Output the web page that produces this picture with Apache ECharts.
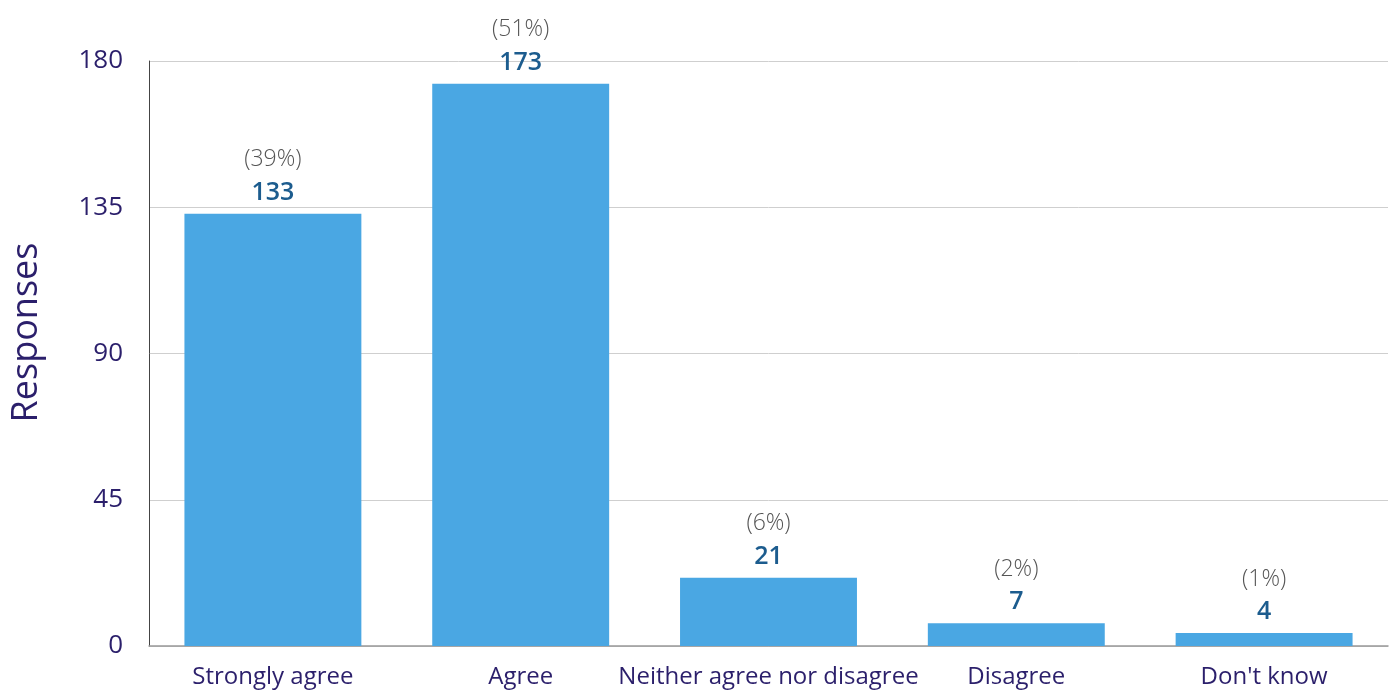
<!DOCTYPE html>
<html><head><meta charset="utf-8">
<script src="https://cdn.jsdelivr.net/npm/echarts@6/dist/echarts.min.js"></script>
<style>html,body{margin:0;padding:0;background:#fff}#c{width:1397px;height:691px}</style>
</head><body><div id="c"></div>
<script>
const categories = ['Strongly agree', 'Agree', 'Neither agree nor disagree', 'Disagree', "Don't know"];
const responses = [133, 173, 21, 7, 4];
const percentLabels = ['(39%)', '(51%)', '(6%)', '(2%)', '(1%)'];
const yTicks = [0, 45, 90, 135, 180];

const font = 'Open Sans';
const chart = echarts.init(document.getElementById('c'));
chart.setOption({
  animation: false,
  grid: { left: 149, right: 9, top: 61, bottom: 45, containLabel: false, outerBoundsMode: 'none' },
  xAxis: {
    type: 'category', data: categories,
    axisLine: { show: true, lineStyle: { color: '#999', width: 1.5 } },
    axisTick: { show: false },
    axisLabel: { color: '#2B1F6B', fontSize: 24, fontFamily: font, margin: 19, interval: 0 }
  },
  yAxis: {
    type: 'value', min: yTicks[0], max: yTicks[yTicks.length - 1], interval: 45,
    name: 'Responses', nameLocation: 'middle', nameGap: 104, nameRotate: 90,
    nameTextStyle: { color: '#2B1F6B', fontSize: 36, fontFamily: font, padding: [0, 0, 0, 42] },
    axisLine: { show: true, lineStyle: { color: '#444', width: 1 } },
    axisTick: { show: false },
    axisLabel: { color: '#2B1F6B', fontSize: 26, fontFamily: font, margin: 26 },
    splitLine: { lineStyle: { color: '#cfcfcf', width: 1 } }
  },
  series: [{
    type: 'bar', data: responses, barWidth: '71.4%',
    itemStyle: { color: '#4AA7E3' },
    label: {
      show: true, position: 'top', distance: 6,
      formatter: p => '{p|' + percentLabels[p.dataIndex] + '}\n{v|' + p.value + '}',
      rich: {
        p: { color: '#555', fontSize: 23, fontFamily: font, fontWeight: 300, lineHeight: 36 },
        v: { color: '#1C5C8E', fontSize: 25, fontFamily: font, fontWeight: 600, lineHeight: 30 }
      }
    }
  }]
});
</script></body></html>
